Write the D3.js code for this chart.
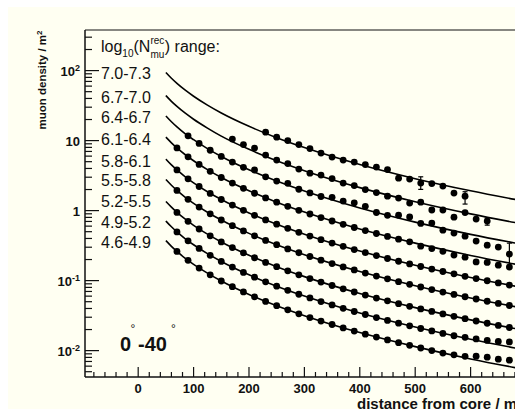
<!DOCTYPE html>
<html><head><meta charset="utf-8">
<script src="https://cdn.jsdelivr.net/npm/d3@7"></script>
<style>
html,body{margin:0;padding:0;background:#fff;}
svg{display:block;}
text{font-family:"Liberation Sans",Arial,Helvetica,sans-serif;fill:#111;}
</style></head><body>
<svg id="chart" width="515" height="409"></svg>
<script>
// Legend labels, one per log10(N_mu^rec) interval, from the top curve down
const rangeLabels = ["7.0-7.3","6.7-7.0","6.4-6.7","6.1-6.4","5.8-6.1","5.5-5.8","5.2-5.5","4.9-5.2","4.6-4.9"];

// Distances (m) at which the fitted lateral distributions are tabulated
const fitDistances = [50,60,70,85,100,125,150,200,250,300,400,500,600,700];
// Fitted muon density (m^-2) for each interval
const fit1 = [93.9,77.7,65.6,52.4,43.0,32.1,24.8,16.0,11.0,7.94,4.55,2.86,1.92,1.35];
const fit2 = [44.0,36.4,30.8,24.6,20.2,15.1,11.6,7.50,5.16,3.72,2.13,1.34,0.898,0.631];
const fit3 = [22.5,18.6,15.7,12.5,10.3,7.68,5.94,3.83,2.64,1.90,1.09,0.685,0.458,0.322];
const fit4 = [11.2,9.30,7.86,6.28,5.15,3.85,2.97,1.92,1.32,0.952,0.545,0.343,0.229,0.161];
const fit5 = [5.44,4.50,3.81,3.04,2.49,1.86,1.44,0.927,0.639,0.461,0.264,0.166,0.111,0.0781];
const fit6 = [2.78,2.30,1.94,1.55,1.27,0.949,0.734,0.473,0.326,0.235,0.135,0.0847,0.0566,0.0398];
const fit7 = [1.35,1.12,0.943,0.753,0.617,0.461,0.357,0.230,0.158,0.114,0.0654,0.0411,0.0275,0.0193];
const fit8 = [0.710,0.587,0.496,0.396,0.325,0.243,0.188,0.121,0.0833,0.0601,0.0344,0.0217,0.0145,0.0102];
const fit9 = [0.373,0.309,0.261,0.208,0.171,0.128,0.0987,0.0635,0.0438,0.0316,0.0181,0.0114,0.00761,0.00535];

// Radial bins (m) of the measured densities
const binDistances = [70,90,110,130,150,170,190,210,230,250,270,290,310,330,350,370,390,410,430,450,470,490,510,530,550,570,590,610,630,650,670];
// Measured muon density (m^-2) per bin; null where the interval has no entry
const meas1 = [null,null,null,null,null,null,null,null,13.2,11.2,10.0,8.77,7.69,6.63,5.81,5.27,4.93,4.54,4.18,3.85,2.91,2.82,2.47,2.43,2.24,1.78,1.61,null,null,null,null];
const meas2 = [null,null,null,null,null,10.5,8.77,7.81,6.21,5.27,4.69,3.92,3.43,3.22,2.87,2.47,2.28,2.00,1.81,1.61,1.51,1.28,1.32,1.02,1.02,0.807,0.936,0.756,0.708,null,null];
const meas3 = [null,11.7,9.10,7.28,5.94,4.94,4.15,3.80,3.04,2.64,2.45,2.02,1.79,1.59,1.55,1.37,1.29,1.15,0.94,0.856,0.86,0.81,0.656,0.663,0.526,0.477,0.432,0.367,0.321,0.301,0.239];
const meas4 = [7.86,5.87,4.56,3.64,2.97,2.47,2.08,1.77,1.52,1.32,1.15,1.01,0.895,0.795,0.711,0.637,0.574,0.519,0.471,0.428,0.391,0.358,0.310,0.287,0.262,0.232,0.216,0.185,0.182,0.166,0.156];
const meas5 = [3.81,2.84,2.21,1.76,1.44,1.20,1.01,0.857,0.736,0.639,0.558,0.490,0.433,0.385,0.344,0.309,0.278,0.251,0.228,0.207,0.189,0.173,0.159,0.146,0.135,0.125,0.115,0.107,0.0995,0.0927,0.0865];
const meas6 = [1.94,1.45,1.125,0.899,0.734,0.610,0.513,0.437,0.375,0.326,0.284,0.250,0.221,0.196,0.175,0.157,0.142,0.128,0.116,0.106,0.0966,0.0884,0.0811,0.0746,0.0687,0.0636,0.0588,0.0546,0.0507,0.0472,0.0441];
const meas7 = [0.943,0.703,0.546,0.437,0.357,0.296,0.249,0.212,0.182,0.158,0.138,0.121,0.107,0.0953,0.0852,0.0764,0.0688,0.0622,0.0564,0.0514,0.0469,0.0429,0.0394,0.0363,0.0334,0.0309,0.0286,0.0265,0.0246,0.0229,0.0214];
const meas8 = [0.496,0.370,0.288,0.230,0.188,0.156,0.131,0.112,0.096,0.0833,0.0727,0.0639,0.0565,0.0502,0.0449,0.0402,0.0362,0.0328,0.0297,0.0270,0.0247,0.0226,0.0207,0.0191,0.0176,0.0163,0.0155,0.0147,0.0140,0.0135,0.0133];
const meas9 = [0.261,0.195,0.151,0.121,0.0987,0.0819,0.0690,0.0587,0.0504,0.0438,0.0382,0.0336,0.0297,0.0264,0.0236,0.0211,0.0190,0.0172,0.0156,0.0142,0.0130,0.0119,0.0109,0.0100,0.00924,0.00870,0.00830,0.00834,0.00807,0.00756,0.00731];

// Error bars on the sparsely populated outer bins: [interval index, distance, low, high]
const errorBars = [[0,510,2.01,3.04],[0,590,1.24,1.86],[1,630,0.62,0.78],[2,670,0.166,0.343]];

// Axis ticks
const xMajorTicks = [0,100,200,300,400,500,600];
const yDecades = [0.01,0.1,1,10,100];
const yDecadeLabels = [["10","-2"],["10","-1"],["1",""],["10",""],["10","2"]];

const fits = [fit1,fit2,fit3,fit4,fit5,fit6,fit7,fit8,fit9];
const measurements = [meas1,meas2,meas3,meas4,meas5,meas6,meas7,meas8,meas9];

const svg = d3.select("#chart");
const W = 515, H = 409;
const plot = {left:85, top:30, right:526, bottom:377};

// page and pad background
svg.append("rect").attr("width",W).attr("height",H).attr("fill","#ffffff");
svg.append("rect").attr("x",8).attr("y",7).attr("width",W-8).attr("height",H-7).attr("fill","#fffff2");

const x = d3.scaleLinear().domain([-96,700]).range([plot.left, plot.right]);
const y = d3.scaleLog().domain([0.0042,380]).range([plot.bottom, plot.top]);

svg.append("defs").append("clipPath").attr("id","plotclip")
  .append("rect").attr("x",plot.left).attr("y",plot.top)
  .attr("width",plot.right-plot.left).attr("height",plot.bottom-plot.top);

const g = svg.append("g").attr("clip-path","url(#plotclip)");

// fitted curves
const line = d3.line().x(d=>x(d[0])).y(d=>y(d[1])).curve(d3.curveMonotoneX);
fits.forEach(f=>{
  g.append("path").attr("d", line(fitDistances.map((r,i)=>[r,f[i]])))
    .attr("fill","none").attr("stroke","#000").attr("stroke-width",1.6);
});

// error bars
errorBars.forEach(([k,r,lo,hi])=>{
  const xe = x(r);
  g.append("line").attr("x1",xe).attr("x2",xe).attr("y1",y(lo)).attr("y2",y(hi)).attr("stroke","#000").attr("stroke-width",1.2);
  [lo,hi].forEach(v=>g.append("line").attr("x1",xe-2.5).attr("x2",xe+2.5).attr("y1",y(v)).attr("y2",y(v)).attr("stroke","#000").attr("stroke-width",1.2));
});

// measured points
measurements.forEach(m=>{
  g.selectAll(null).data(binDistances.map((r,i)=>[r,m[i]]).filter(d=>d[1]!=null))
    .enter().append("circle")
    .attr("cx",d=>x(d[0])).attr("cy",d=>y(d[1])).attr("r",3.4).attr("fill","#000");
});

// frame
const axisColor = "#111";
svg.append("line").attr("x1",plot.left).attr("x2",plot.right).attr("y1",plot.top).attr("y2",plot.top).attr("stroke",axisColor).attr("stroke-width",1.2);
svg.append("line").attr("x1",plot.left).attr("x2",plot.right).attr("y1",plot.bottom).attr("y2",plot.bottom).attr("stroke",axisColor).attr("stroke-width",1.5);
svg.append("line").attr("x1",plot.left).attr("x2",plot.left).attr("y1",plot.top).attr("y2",plot.bottom).attr("stroke",axisColor).attr("stroke-width",1.5);

// x ticks: majors every 100 m, minors every 20 m
const xMinor = d3.range(-80, 701, 20);
xMinor.forEach(v=>{
  const major = xMajorTicks.includes(v);
  svg.append("line").attr("x1",x(v)).attr("x2",x(v)).attr("y1",plot.bottom).attr("y2",plot.bottom-(major?10:5))
    .attr("stroke",axisColor).attr("stroke-width",1.2);
});
xMajorTicks.forEach(v=>{
  svg.append("text").attr("x",x(v)).attr("y",393).attr("text-anchor","middle")
    .attr("font-size",13).attr("font-weight","bold").text(v);
});
svg.append("text").attr("x",357).attr("y",408.5)
  .attr("font-size",15).attr("font-weight","bold").text("distance from core / m");

// y ticks: decades long, 2..9 short
const yDom = y.domain();
for (let e=-3; e<=2; e++){
  for (let m=1; m<=9; m++){
    const v = m*Math.pow(10,e);
    if (v<yDom[0] || v>yDom[1]) continue;
    const len = m===1 ? 14 : 7;
    svg.append("line").attr("x1",plot.left).attr("x2",plot.left+len).attr("y1",y(v)).attr("y2",y(v))
      .attr("stroke",axisColor).attr("stroke-width",1.2);
  }
}
yDecades.forEach((v,i)=>{
  const [base,exp] = yDecadeLabels[i];
  const t = svg.append("text").attr("x",80).attr("y",y(v)+5).attr("text-anchor","end")
    .attr("font-size",13).attr("font-weight","bold");
  t.append("tspan").text(base);
  if (exp) t.append("tspan").attr("dy",-5).attr("font-size",9).text(exp);
});

// y title
const yt = svg.append("text").attr("transform","translate(46,80) rotate(-90)").attr("text-anchor","middle")
  .attr("font-size",11.5).attr("font-weight","bold");
yt.append("tspan").text("muon density / m");
yt.append("tspan").attr("dy",-4).attr("font-size",8).text("2");

// legend title: log10(N^rec_mu) range:
const lx = 101, ly = 52;
function piece(txt, xx, yy, fs){
  const t = svg.append("text").attr("x",xx).attr("y",yy).attr("font-size",fs).text(txt);
  return t.node().getComputedTextLength();
}
let cx = lx;
cx += piece("log", cx, ly, 16);
cx += piece("10", cx, ly+5, 10);
cx += piece("(N", cx, ly, 16);
const wRec = piece("rec", cx, ly-8, 10);
const wMu = piece("mu", cx, ly+6, 10);
cx += Math.max(wRec, wMu) + 0.5;
piece(") range:", cx, ly, 16);

// legend labels
const labelY = [79,103,123,145,167,186,207,228,248];
rangeLabels.forEach((s,i)=>{
  svg.append("text").attr("x",101).attr("y",labelY[i]).attr("font-size",16).text(s);
});

// zenith angle range
svg.append("text").attr("x",120).attr("y",351).attr("font-size",20).attr("font-weight","bold").text("0");
svg.append("text").attr("x",130.5).attr("y",333).attr("font-size",12).attr("fill","#777").text("°");
svg.append("text").attr("x",138).attr("y",351).attr("font-size",20).attr("font-weight","bold").text("-40");
svg.append("text").attr("x",171).attr("y",333).attr("font-size",12).attr("fill","#777").text("°");
</script>
</body></html>
